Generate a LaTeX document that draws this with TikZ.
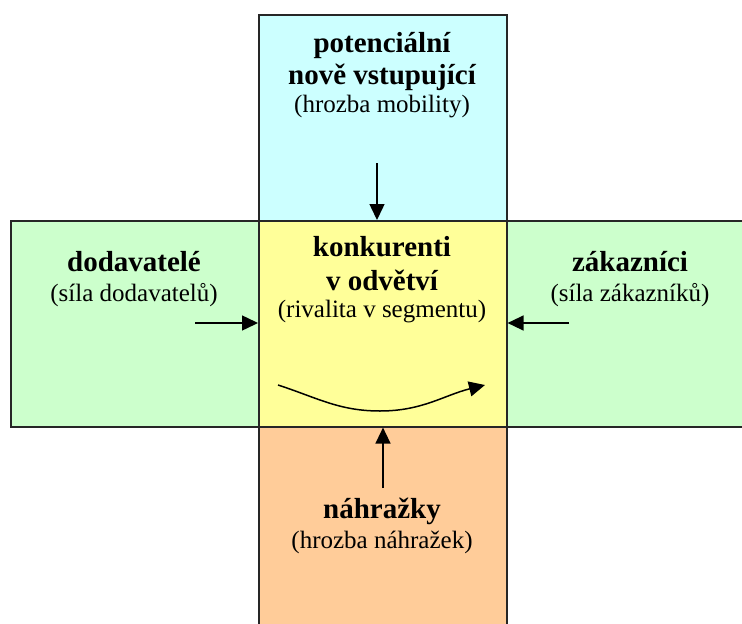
\documentclass[tikz,border=0pt]{standalone}
\usepackage{fontspec}
\setmainfont{Liberation Serif}
\usetikzlibrary{arrows.meta}

\definecolor{entrantfill}{HTML}{CCFFFF}
\definecolor{sidefill}{HTML}{CCFFCC}
\definecolor{rivalfill}{HTML}{FFFF99}
\definecolor{substfill}{HTML}{FFCC99}

\tikzset{
  forcebox/.style={draw=black!85, line width=1.6pt, rectangle, anchor=north west,
    inner sep=0pt, minimum width=248pt, minimum height=206pt},
  forcename/.style={font=\fontsize{29}{32}\selectfont\bfseries, anchor=base, inner sep=0pt},
  forcenote/.style={font=\fontsize{25}{28}\selectfont, anchor=base, inner sep=0pt},
  pressure/.style={-{Triangle[length=16pt,width=15pt]}, line width=1.5pt},
}

\begin{document}
\begin{tikzpicture}[x=1pt, y=-1pt]
  \clip (0,0) rectangle (742,624);
  \fill[white] (0,0) rectangle (742,624);

  % the five boxes of the cross
  \node[forcebox, fill=entrantfill] (entrants) at (258,14) {};
  \node[forcebox, fill=sidefill] (suppliers) at (10,220) {};
  \node[forcebox, fill=sidefill] (customers) at (506,220) {};
  \node[forcebox, fill=substfill, minimum height=214pt] (substitutes) at (258,426) {};
  \node[forcebox, fill=rivalfill] (rivals) at (258,220) {};

  % labels
  \node[forcename] (entname1) at (382,52) {potenciální};
  \node[forcename] (entname2) at (382,84) {nově vstupující};
  \node[forcenote] (entnote) at (382,112) {(hrozba mobility)};

  \node[forcename] (rivname1) at (382,256) {konkurenti};
  \node[forcename] (rivname2) at (382,290) {v odvětví};
  \node[forcenote] (rivnote) at (382,317) {(rivalita v segmentu)};

  \node[forcename] (supname) at (134,271) {dodavatelé};
  \node[forcenote] (supnote) at (134,301) {(síla dodavatelů)};

  \node[forcename] (cusname) at (630,271) {zákazníci};
  \node[forcenote] (cusnote) at (630,301) {(síla zákazníků)};

  \node[forcename] (subname) at (382,518) {náhražky};
  \node[forcenote] (subnote) at (382,548) {(hrozba náhražek)};

  % pressures on the industry
  \coordinate (enttail) at (377,163);
  \coordinate (suptail) at (195,323);
  \coordinate (custail) at (569,323);
  \coordinate (subtail) at (383,488);
  \draw[pressure] (enttail) -- (enttail |- rivals.north);
  \draw[pressure] (suptail) -- (suptail -| rivals.west);
  \draw[pressure] (custail) -- (custail -| rivals.east);
  \draw[pressure] (subtail) -- (subtail |- rivals.south);

  % rivalry inside the segment
  \coordinate (rivstart) at (278,385);
  \coordinate (rivlow) at (380,411);
  \coordinate (rivend) at (485,385);
  \draw[pressure] (rivstart) to[out=-18,in=180] (rivlow) to[out=0,in=194] (rivend);
\end{tikzpicture}
\end{document}
